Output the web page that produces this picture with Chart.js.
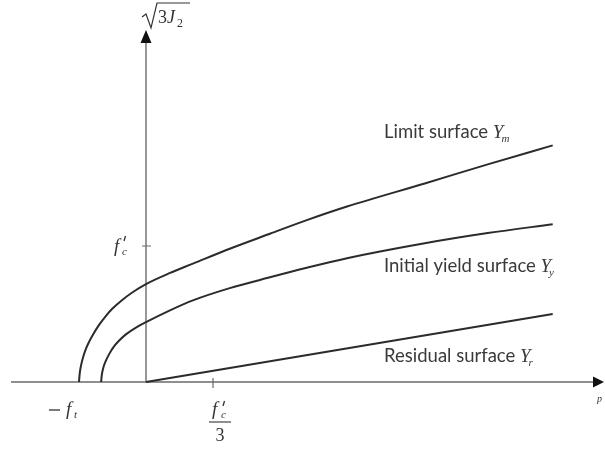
<!DOCTYPE html>
<html>
<head>
<meta charset="utf-8">
<script src="https://cdn.jsdelivr.net/npm/chart.js@4"></script>
<style>
  html, body { margin: 0; padding: 0; background: #fff; }
  #wrap { width: 605px; height: 449px; position: relative; }
</style>
</head>
<body>
<div id="wrap"><canvas id="chart"></canvas></div>
<script>
// p in units of f'c/3, sqrt(3J2) in units of f'c
const limitX = [-1.0, -0.99, -0.97, -0.94, -0.9, -0.85, -0.79, -0.7, -0.6, -0.5, -0.35, -0.2, 0, 0.35, 0.7, 1.25, 1.85, 2.4, 3.0, 4.16, 5.1, 6.07];
const limitY = [0, 0.06, 0.12, 0.18, 0.24, 0.295, 0.35, 0.42, 0.485, 0.54, 0.605, 0.66, 0.72, 0.8, 0.87, 0.98, 1.09, 1.19, 1.29, 1.46, 1.6, 1.74];
const yieldX = [-0.67, -0.66, -0.64, -0.6, -0.55, -0.48, -0.4, -0.3, -0.15, 0, 0.35, 0.7, 1.25, 1.85, 2.4, 3.0, 4.16, 5.1, 6.07];
const yieldY = [0, 0.05, 0.1, 0.155, 0.205, 0.26, 0.305, 0.35, 0.4, 0.44, 0.525, 0.6, 0.69, 0.77, 0.84, 0.91, 1.02, 1.095, 1.16];
const residualX = [0, 6.07];
const residualY = [0, 0.5];
const seriesLabels = ["Limit surface", "Initial yield surface", "Residual surface"];
const seriesSubs = ["m", "y", "r"];
const xTickValue = 1;
const yTickValue = 1;

const LINE = "#2b2b2b";
const AXIS = "#6a6a6a";
const SANS = "Lato, 'Open Sans', sans-serif";
const SERIF = "'Liberation Serif', 'DejaVu Serif', serif";

function toPoints(xs, ys) {
  return xs.map((x, i) => ({ x, y: ys[i] }));
}

function drawPrime(ctx, x, y) {
  ctx.save();
  ctx.lineWidth = 1.3;
  ctx.beginPath();
  ctx.moveTo(x + 1.5, y);
  ctx.lineTo(x, y + 5);
  ctx.stroke();
  ctx.restore();
}

const diagramPlugin = {
  id: "diagram",
  beforeDatasetsDraw(chart) {
    const { ctx, scales } = chart;
    const xs = scales.x;
    const ys = scales.y;
    const x0 = xs.getPixelForValue(0);
    const y0 = ys.getPixelForValue(0);
    ctx.save();
    ctx.strokeStyle = AXIS;
    ctx.fillStyle = "#111";
    ctx.lineWidth = 1.4;
    // horizontal axis
    ctx.beginPath();
    ctx.moveTo(11, y0);
    ctx.lineTo(594, y0);
    ctx.stroke();
    // vertical axis
    ctx.beginPath();
    ctx.moveTo(x0, y0);
    ctx.lineTo(x0, 42);
    ctx.stroke();
    // arrow heads
    ctx.beginPath();
    ctx.moveTo(604, y0);
    ctx.lineTo(593, y0 - 5.5);
    ctx.lineTo(593, y0 + 5.5);
    ctx.closePath();
    ctx.fill();
    ctx.beginPath();
    ctx.moveTo(x0, 30);
    ctx.lineTo(x0 - 5.5, 43);
    ctx.lineTo(x0 + 5.5, 43);
    ctx.closePath();
    ctx.fill();
    // ticks
    const tx = xs.getPixelForValue(xTickValue);
    const ty = ys.getPixelForValue(yTickValue);
    ctx.lineWidth = 1.2;
    ctx.beginPath();
    ctx.moveTo(tx, y0 - 4);
    ctx.lineTo(tx, y0 + 6);
    ctx.moveTo(x0 - 4, ty);
    ctx.lineTo(x0 + 5, ty);
    ctx.stroke();
    ctx.restore();
  },
  afterDraw(chart) {
    const { ctx, scales } = chart;
    const xs = scales.x;
    const ys = scales.y;
    const tx = xs.getPixelForValue(xTickValue);
    const ty = ys.getPixelForValue(yTickValue);
    ctx.save();
    ctx.fillStyle = "#333";
    ctx.strokeStyle = "#333";
    ctx.textBaseline = "alphabetic";

    // sqrt(3 J2) label
    ctx.lineWidth = 1.2;
    ctx.beginPath();
    ctx.moveTo(142, 17);
    ctx.lineTo(146, 14);
    ctx.lineTo(151, 28);
    ctx.lineTo(157, 3);
    ctx.lineTo(190, 3);
    ctx.stroke();
    ctx.font = "18px " + SERIF;
    ctx.fillText("3", 158, 23);
    ctx.font = "italic 18px " + SERIF;
    ctx.fillText("J", 167, 23);
    ctx.font = "12px " + SERIF;
    ctx.fillText("2", 177, 27);

    // f'c on the vertical axis
    ctx.font = "italic 19px " + SERIF;
    ctx.fillText("f", 114, ty + 6);
    drawPrime(ctx, 124, ty - 10);
    ctx.font = "italic 11px " + SERIF;
    ctx.fillText("c", 122, ty + 9);

    // -f_t
    ctx.lineWidth = 1.3;
    ctx.beginPath();
    ctx.moveTo(49, 410);
    ctx.lineTo(60, 410);
    ctx.stroke();
    ctx.font = "italic 19px " + SERIF;
    ctx.fillText("f", 66, 415);
    ctx.font = "italic 11px " + SERIF;
    ctx.fillText("t", 74, 418);

    // f'c / 3
    const fx = tx + 7;
    ctx.font = "italic 19px " + SERIF;
    ctx.fillText("f", fx - 8, 415);
    drawPrime(ctx, fx + 3, 401);
    ctx.font = "italic 11px " + SERIF;
    ctx.fillText("c", fx + 1, 418);
    ctx.lineWidth = 1.1;
    ctx.beginPath();
    ctx.moveTo(fx - 11, 422);
    ctx.lineTo(fx + 11, 422);
    ctx.stroke();
    ctx.font = "18px " + SERIF;
    ctx.textAlign = "center";
    ctx.fillText("3", fx, 441);
    ctx.textAlign = "left";

    // p
    ctx.font = "italic 10px " + SERIF;
    ctx.fillText("p", 597, 402);

    // curve labels
    const baselines = [138, 272, 362];
    seriesLabels.forEach((label, i) => {
      ctx.font = "18.5px " + SANS;
      ctx.fillStyle = "#3a3a3a";
      ctx.fillText(label, 384, baselines[i]);
      const w = ctx.measureText(label + " ").width;
      ctx.font = "italic 19px " + SERIF;
      ctx.fillText("Y", 384 + w, baselines[i]);
      const wy = ctx.measureText("Y").width;
      ctx.font = "italic 11px " + SERIF;
      ctx.fillText(seriesSubs[i], 384 + w + wy - 2, baselines[i] + 4);
    });
    ctx.restore();
  }
};

const lineStyle = {
  borderColor: LINE,
  borderWidth: 2,
  pointRadius: 0,
  fill: false,
  showLine: true,
  cubicInterpolationMode: "monotone"
};

new Chart(document.getElementById("chart"), {
  type: "scatter",
  data: {
    datasets: [
      { label: seriesLabels[0], data: toPoints(limitX, limitY), ...lineStyle },
      { label: seriesLabels[1], data: toPoints(yieldX, yieldY), ...lineStyle },
      { label: seriesLabels[2], data: toPoints(residualX, residualY), ...lineStyle }
    ]
  },
  options: {
    responsive: true,
    maintainAspectRatio: false,
    animation: false,
    layout: { padding: 0 },
    plugins: {
      legend: { display: false },
      tooltip: { enabled: false }
    },
    scales: {
      x: { type: "linear", display: false, min: -146 / 67, max: 459 / 67 },
      y: { type: "linear", display: false, min: -67 / 136, max: 382 / 136 }
    }
  },
  plugins: [diagramPlugin]
});
</script>
</body>
</html>
